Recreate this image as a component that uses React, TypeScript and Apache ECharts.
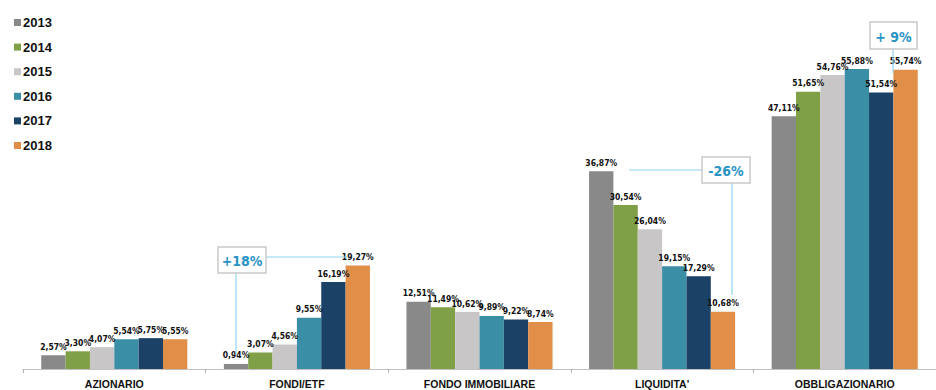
import React, { useEffect, useRef } from "react";
import * as echarts from "echarts";

const categories = ["AZIONARIO", "FONDI/ETF", "FONDO IMMOBILIARE", "LIQUIDITA'", "OBBLIGAZIONARIO"];
const years = ["2013", "2014", "2015", "2016", "2017", "2018"];
const v2013 = [2.57, 0.94, 12.51, 36.87, 47.11];
const v2014 = [3.3, 3.07, 11.49, 30.54, 51.65];
const v2015 = [4.07, 4.56, 10.62, 26.04, 54.76];
const v2016 = [5.54, 9.55, 9.89, 19.15, 55.88];
const v2017 = [5.75, 16.19, 9.22, 17.29, 51.54];
const v2018 = [5.55, 19.27, 8.74, 10.68, 55.74];
const seriesValues = [v2013, v2014, v2015, v2016, v2017, v2018];
const colors = ["#898989", "#80a047", "#c8c6c7", "#3a8fa6", "#1b4167", "#e08e48"];
const callouts = ["+18%", "-26%", "+ 9%"];

const labelFont = "'DejaVu Sans Condensed', 'Liberation Sans Narrow', sans-serif";

export default function App() {
  const ref = useRef<HTMLDivElement>(null);
  useEffect(() => {
    if (!ref.current) return;
    const chart = echarts.init(ref.current, null, { renderer: "svg" });
    const lineColor = "#8fd3ef";
    const boxStyle = { fill: "#ffffff", stroke: "#c9c9c9", lineWidth: 1.5 };
    const textStyle = (t: string) => ({
      text: t,
      fill: "#2a93c4",
      font: "bold 14px 'DejaVu Sans Condensed', sans-serif",
      align: "center",
      verticalAlign: "middle",
    });
    const box = (x: number, y: number, w: number, h: number, t: string) => [
      { type: "rect", shape: { x, y, width: w, height: h }, style: boxStyle, z: 10 },
      { type: "text", x: x + w / 2, y: y + h / 2 + 1, style: textStyle(t), z: 11 },
    ];
    const line = (x1: number, y1: number, x2: number, y2: number) => ({
      type: "line",
      shape: { x1, y1, x2, y2 },
      style: { stroke: lineColor, lineWidth: 1.2 },
      z: 9,
    });
    chart.setOption({
      animation: false,
      backgroundColor: "#ffffff",
      color: colors,
      legend: {
        orient: "vertical",
        left: 9,
        top: 11,
        itemWidth: 7,
        itemHeight: 7,
        itemGap: 11.6,
        icon: "rect",
        data: years,
        textStyle: {
          fontFamily: "'Liberation Sans', Arial, sans-serif",
          fontWeight: "bold",
          fontSize: 13,
          color: "#111111",
          padding: [0, 0, 0, -3],
        },
      },
      grid: { left: 23, right: -12, top: 47, bottom: 21, containLabel: false },
      xAxis: {
        type: "category",
        data: categories,
        axisLine: { lineStyle: { color: "#c0c0c0", width: 1 } },
        axisTick: { show: true, length: 4, lineStyle: { color: "#b0b0b0" } },
        axisLabel: {
          margin: 9,
          fontFamily: "'Liberation Sans', Arial, sans-serif",
          fontWeight: "bold",
          fontSize: 10.5,
          color: "#111111",
          interval: 0,
        },
      },
      yAxis: { type: "value", min: 0, max: 60, show: false, splitLine: { show: false } },
      series: seriesValues.map((vals, i) => ({
        name: years[i],
        type: "bar",
        data: vals,
        barGap: "0%",
        barCategoryGap: "20%",
        itemStyle: { color: colors[i] },
        label: {
          show: true,
          position: "top",
          distance: 4,
          fontFamily: labelFont,
          fontWeight: "bold",
          fontSize: 8.5,
          color: "#111111",
          formatter: (p: any) => Number(p.value).toFixed(2).replace(".", ",") + "%",
        },
      })),
      graphic: [
        line(266, 257, 347, 257),
        line(236, 273, 236, 355),
        ...box(218, 247, 48, 26, callouts[0]),
        line(629, 170, 702, 170),
        line(732, 183, 732, 295),
        ...box(702, 157, 48, 26, callouts[1]),
        line(893, 49, 893, 73),
        ...box(870, 22, 47, 27, callouts[2]),
      ],
    });
    return () => chart.dispose();
  }, []);
  return <div ref={ref} style={{ position: "absolute", left: 0, top: 0, width: 936, height: 390 }} />;
}
